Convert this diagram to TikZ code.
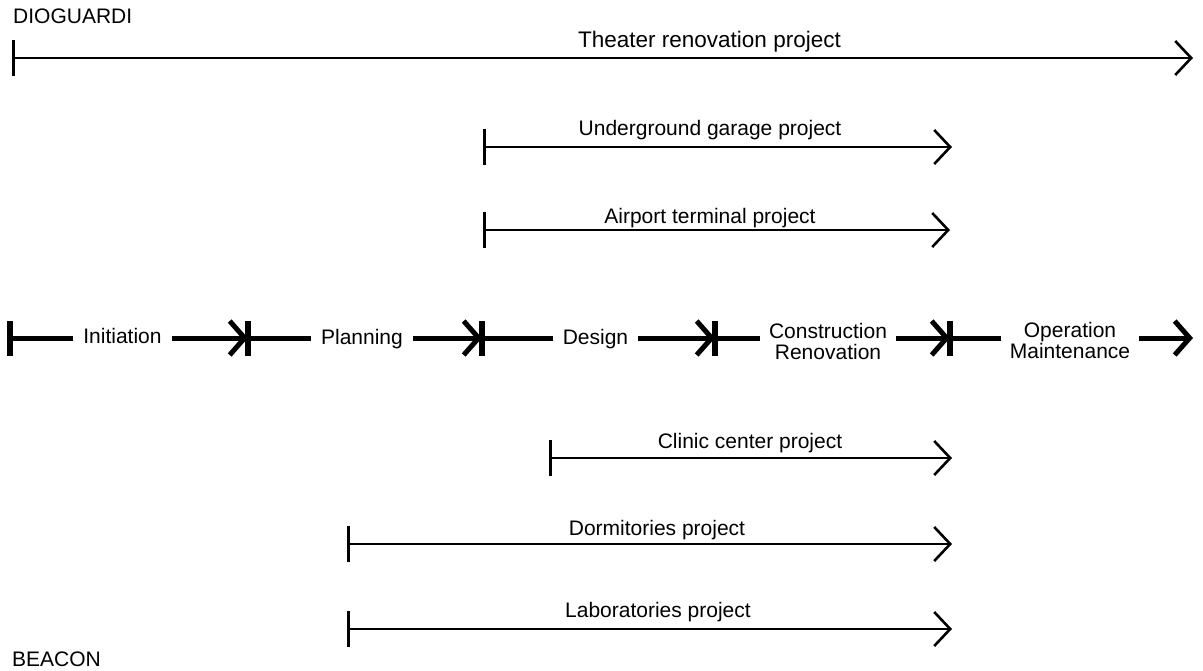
\documentclass[tikz,border=0pt]{standalone}
\usepackage{fontspec}
\setmainfont{Liberation Sans}
\usetikzlibrary{arrows.meta,calc}
\begin{document}
\begin{tikzpicture}[x=1pt,y=-1pt,
  every node/.style={font=\fontsize{21pt}{21pt}\selectfont, inner sep=0pt},
  proj/.style={line width=2.6pt,
    arrows={Bar[width=36pt,line width=3pt]-Straight Barb[length=16pt,width=34pt,line width=2.6pt]}},
  plabel/.style={anchor=base},
  phase/.style={line width=5pt},
  phasetip/.style={phase, -{Straight Barb[length=15pt,width=34pt]}},
  phasebar/.style={line width=5.5pt},
  stage/.style={anchor=base, inner xsep=10pt},
  stagetwo/.style={align=center, inner xsep=9pt}
]
\useasboundingbox (0,0) rectangle (1203,670);

% company names
\node[anchor=base west] (dio) at (13,23) {DIOGUARDI};
\node[anchor=base west] (bea) at (12,666) {BEACON};

% projects of the first company
\coordinate (thS) at (12,58);   \coordinate (thE) at (1193,58);
\draw[proj] (thS) -- (thE);
\node[plabel, font=\fontsize{22.5pt}{22.5pt}\selectfont] (thL) at (709.5,47) {Theater renovation project};

\coordinate (ugS) at (483,147); \coordinate (ugE) at (952,147);
\draw[proj] (ugS) -- (ugE);
\node[plabel] (ugL) at (710,135) {Underground garage project};

\coordinate (apS) at (483,230); \coordinate (apE) at (950,230);
\draw[proj] (apS) -- (apE);
\node[plabel] (apL) at (710,223) {Airport terminal project};

% life-cycle phases
\coordinate (p0) at (10,338);
\coordinate (p1) at (248,338);
\coordinate (p2) at (482,338);
\coordinate (p3) at (715,338);
\coordinate (p4) at (950,338);
\coordinate (pE) at (1193,338);

\node[stage] (ini) at (122.5,343) {Initiation};
\node[stage] (pla) at (362,344) {Planning};
\node[stage] (des) at (595.5,344) {Design};
\node[stagetwo] (con) at (828,341) {Construction\\Renovation};
\node[stagetwo] (ope) at (1070,340) {Operation\\Maintenance};

\draw[phase] (p0) -- (p0 -| ini.west);
\draw[phasetip] (ini.east |- p0) -- (p1);
\draw[phase] (p1) -- (p1 -| pla.west);
\draw[phasetip] (pla.east |- p1) -- (p2);
\draw[phase] (p2) -- (p2 -| des.west);
\draw[phasetip] (des.east |- p2) -- (p3);
\draw[phase] (p3) -- (p3 -| con.west);
\draw[phasetip] (con.east |- p3) -- (p4);
\draw[phase] (p4) -- (p4 -| ope.west);
\draw[phasetip] (ope.east |- p4) -- (pE);
\foreach \p in {p0,p1,p2,p3,p4}
  \draw[phasebar] ($(\p)+(0,-17)$) -- ($(\p)+(0,18)$);

% projects of the second company
\coordinate (clS) at (549,458); \coordinate (clE) at (952,458);
\draw[proj] (clS) -- (clE);
\node[plabel] (clL) at (750,448) {Clinic center project};

\coordinate (doS) at (347,544); \coordinate (doE) at (952,544);
\draw[proj] (doS) -- (doE);
\node[plabel] (doL) at (657,535) {Dormitories project};

\coordinate (laS) at (347,629); \coordinate (laE) at (952,629);
\draw[proj] (laS) -- (laE);
\node[plabel] (laL) at (658,617) {Laboratories project};
\end{tikzpicture}
\end{document}
